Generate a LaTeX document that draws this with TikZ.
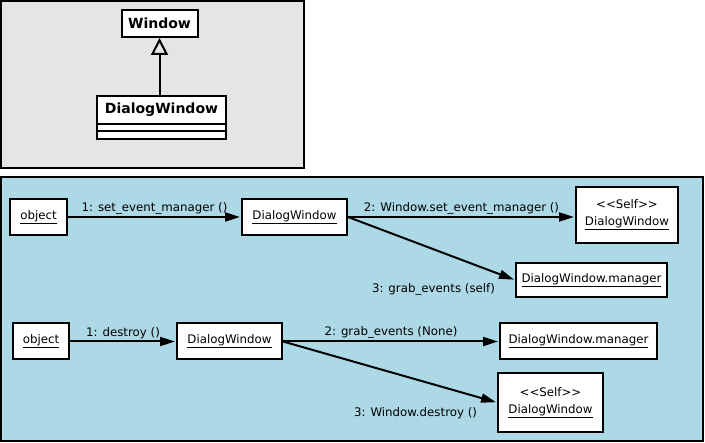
\documentclass[tikz,border=0pt]{standalone}
\usepackage{fontspec}
\setmainfont{DejaVu Sans}
\usetikzlibrary{arrows.meta}
\definecolor{panelblue}{RGB}{173,216,230}
\definecolor{panelgray}{RGB}{229,229,229}

\begin{document}
\begin{tikzpicture}[x=1pt,y=-1pt,line width=2pt,
        obj/.style={draw,fill=white,inner sep=0pt,minimum height=36pt,align=center,font=\fontsize{11.8}{17}\selectfont},
        cls/.style={draw,fill=white,inner sep=0pt,font=\fontsize{14}{16}\selectfont\bfseries},
        compart/.style={draw,fill=white,inner sep=0pt,minimum width=129pt},
        msg/.style={-{Triangle[length=15pt,width=9pt]},shorten >=1pt},
        lbl/.style={inner sep=2pt,font=\fontsize{11.8}{13}\selectfont}]
            \useasboundingbox (0,0) rectangle (705,443);

                    \draw[fill=panelgray] (1,1) rectangle (304,168);
                    \node[cls,minimum width=76pt,minimum height=27pt] (win) at (159.5,23.5){Window};
                    \node[cls,minimum width=129pt,minimum height=28pt] (dlg) at (161.5,110){DialogWindow};
                    \node[compart,minimum height=7pt] (dlgattr) at (161.5,127.5){};
                    \node[compart,minimum height=8pt] (dlgops) at (161.5,135){};
                    \draw[-{Triangle[open,length=17pt,width=17pt]}] (dlg.north -| win) -- (win.south);

                    \draw[fill=panelblue] (1,177) rectangle (703,441);
                    \node[obj,minimum width=57pt] (obj1) at (38.5,217){\underline{object}};
                    \node[obj,minimum width=105pt] (dw1) at (294.5,217){\underline{DialogWindow}};
                    \node[obj,minimum width=102pt,minimum height=56pt] (self1) at (627,215){<{}<Self>{}>\\\underline{DialogWindow}};
                    \node[obj,minimum width=151pt,minimum height=34pt] (mgr1) at (591.5,280){\underline{DialogWindow.manager}};
                    \node[obj,minimum width=56pt] (obj2) at (41,341.5){\underline{object}};
                    \node[obj,minimum width=105pt] (dw2) at (229.5,341.5){\underline{DialogWindow}};
                    \node[obj,minimum width=157pt] (mgr2) at (578.5,341.5){\underline{DialogWindow.manager}};
                    \node[obj,minimum width=105pt,minimum height=59pt] (self2) at (550.5,402.5){<{}<Self>{}>\\\underline{DialogWindow}};

                    \draw[msg] (obj1) -- node[lbl,above]{1: set\_event\_manager ()} (dw1);
                    \draw[msg] (dw1.east) -- node[lbl,above]{2: Window.set\_event\_manager ()} (dw1.east -| self1.west);
                    \draw[msg] (dw1.east) -- (mgr1.west) node[lbl,anchor=north east,xshift=-17pt,yshift=-1pt]{3: grab\_events (self)};
                    \draw[msg] (obj2) -- node[lbl,above]{1: destroy ()} (dw2);
                    \draw[msg] (dw2) -- node[lbl,above]{2: grab\_events (None)} (mgr2);
                    \draw[msg] (dw2.east) -- (self2.west) node[lbl,anchor=north east,xshift=-17pt,yshift=-2pt]{3: Window.destroy ()};

                    \end{tikzpicture}
\end{document}
